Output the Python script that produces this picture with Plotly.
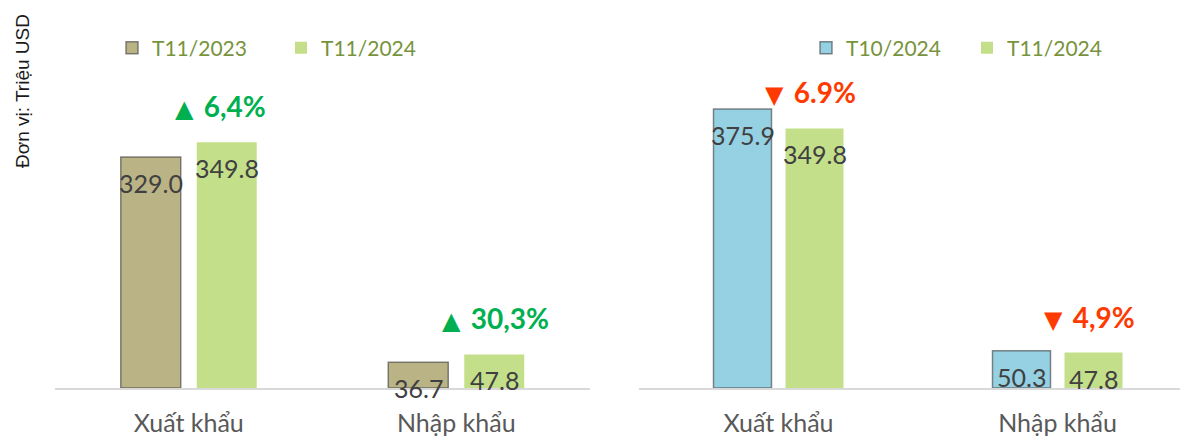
import plotly.graph_objects as go

categories = ["Xuất khẩu", "Nhập khẩu"]

# Left panel: same month year-on-year
left_names = ["T11/2023", "T11/2024"]
left_prev = [329.0, 36.7]
left_curr = [349.8, 47.8]
left_change = ["▲", "6,4%", "▲", "30,3%"]

# Right panel: month-on-month
right_names = ["T10/2024", "T11/2024"]
right_prev = [375.9, 50.3]
right_curr = [349.8, 47.8]
right_change = ["▼", "6.9%", "▼", "4,9%"]

unit_label = "Đơn vị: Triệu USD"

C_OLIVE = "#bab386"
C_GREEN = "#c4df8a"
C_BLUE = "#95d0e3"
UP = "#00b050"
DOWN = "#ff3a00"
LABEL_FONT = "Lato, 'Open Sans', sans-serif"

# The page body has an 8px margin; the figure is sized to fit the window.
OFF = 8
W, H = 1188 - OFF, 440 - OFF
BASE = 388 - OFF           # baseline pixel in figure coordinates
MB = H - BASE


def px(x):
    return (x - OFF) / W


# bar geometry (in category units) for each panel
L_UNIT = 267.5
R_UNIT = 279.0
L_W, L_OFF = 60 / L_UNIT, 38 / L_UNIT
R_W, R_OFF = 58 / R_UNIT, 36 / R_UNIT

fig = go.Figure()

shadow = dict(color="rgba(60,60,60,0.6)", width=1.5)

fig.add_trace(go.Bar(x=categories, y=left_prev, name=left_names[0],
                     width=L_W, offset=-L_OFF - L_W / 2,
                     marker=dict(color=C_OLIVE, line=shadow),
                     xaxis="x", yaxis="y", legend="legend"))
fig.add_trace(go.Bar(x=categories, y=left_curr, name=left_names[1],
                     width=L_W, offset=L_OFF - L_W / 2,
                     marker=dict(color=C_GREEN, line=dict(width=0)),
                     xaxis="x", yaxis="y", legend="legend"))
fig.add_trace(go.Bar(x=categories, y=right_prev, name=right_names[0],
                     width=R_W, offset=-R_OFF - R_W / 2,
                     marker=dict(color=C_BLUE, line=shadow),
                     xaxis="x2", yaxis="y2", legend="legend2"))
fig.add_trace(go.Bar(x=categories, y=right_curr, name=right_names[1],
                     width=R_W, offset=R_OFF - R_W / 2,
                     marker=dict(color=C_GREEN, line=dict(width=0)),
                     xaxis="x2", yaxis="y2", legend="legend2"))

annotations = []


def add_labels(xref, yref, prev, curr, change, shift, color):
    for i, cat in enumerate(categories):
        for vals, sx in ((prev, -shift), (curr, shift)):
            annotations.append(dict(
                x=cat, y=vals[i], xref=xref, yref=yref, text=f"{vals[i]:.1f}",
                showarrow=False, xshift=sx, yshift=-26, yanchor="middle",
                font=dict(family=LABEL_FONT, size=25, color="#404040")))
        arrow, pct = change[2 * i], change[2 * i + 1]
        annotations.append(dict(
            x=cat, y=curr[i], xref=xref, yref=yref,
            text=(f"<span style='font-family:DejaVu Sans;font-size:24px'>{arrow}</span>"
                  f" &#8201;{pct}"),
            showarrow=False, xshift=-16, yshift=36, xanchor="left", yanchor="middle",
            font=dict(family=LABEL_FONT, size=28, color=color, weight="bold")))


add_labels("x", "y", left_prev, left_curr, left_change, 38, UP)
add_labels("x2", "y2", right_prev, right_curr, right_change, 36, DOWN)

annotations.append(dict(
    x=px(22), y=(BASE - (91 - OFF)) / BASE, xref="paper", yref="paper",
    text=unit_label, textangle=-90,
    showarrow=False, xanchor="center", yanchor="middle",
    font=dict(family="Liberation Sans, Arial, sans-serif", size=19, color="#1a1a1a")))

axis_common = dict(showline=True, linecolor="#d9d9d9", linewidth=2,
                   showgrid=False, zeroline=False, ticks="",
                   tickfont=dict(family=LABEL_FONT, size=25, color="#595959"),
                   ticklabelstandoff=12, fixedrange=True, automargin=False)
yaxis_common = dict(visible=False, showgrid=False, zeroline=False, fixedrange=True)

legend_common = dict(orientation="h", xanchor="left", yanchor="middle",
                     font=dict(family=LABEL_FONT, size=21, color="#77933c"),
                     bgcolor="rgba(0,0,0,0)", itemclick=False, itemdoubleclick=False,
                     entrywidthmode="pixels", itemwidth=30)

# right axis runs past the window edge: extend category range accordingly
R_DOM0 = px(639)
r_span = (1.0 - R_DOM0) * W / R_UNIT

fig.update_layout(
    width=W, height=H, autosize=False,
    margin=dict(l=0, r=0, t=0, b=MB, autoexpand=False),
    paper_bgcolor="white", plot_bgcolor="white",
    barmode="overlay",
    xaxis=dict(domain=[px(55), px(55 + 2 * L_UNIT)], anchor="y", range=[-0.5, 1.5], **axis_common),
    yaxis=dict(domain=[0, 1], anchor="x", range=[0, 541], **yaxis_common),
    xaxis2=dict(domain=[R_DOM0, 1.0], anchor="y2", range=[-0.5, -0.5 + r_span], **axis_common),
    yaxis2=dict(domain=[0, 1], anchor="x2", range=[0, 512], **yaxis_common),
    legend=dict(x=px(112), y=1 - (48 - OFF) / BASE, entrywidth=124, **legend_common),
    legend2=dict(x=px(806), y=1 - (48 - OFF) / BASE, entrywidth=116, **legend_common),
    annotations=annotations,
    showlegend=True,
)

fig.write_html("out.html")
